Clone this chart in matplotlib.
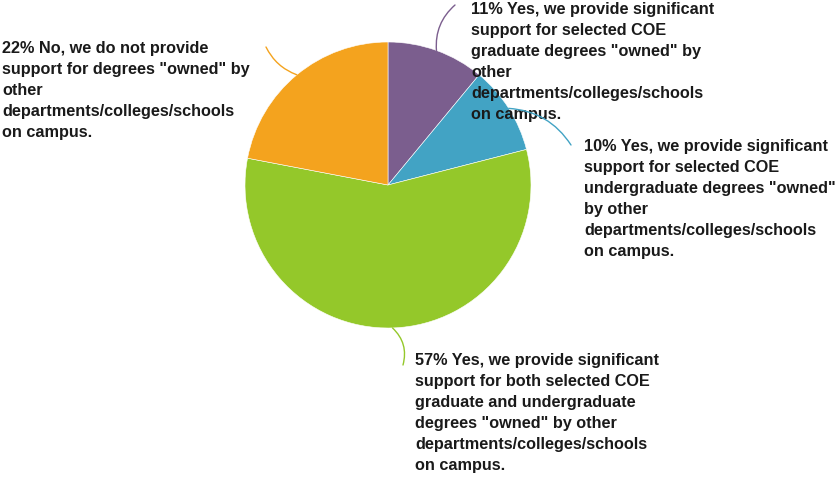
import numpy as np
import matplotlib.pyplot as plt

plt.rcParams['font.family'] = ['Liberation Sans', 'DejaVu Sans']

labels = [
    '11% Yes, we provide significant\nsupport for selected COE\ngraduate degrees "owned" by\nother\ndepartments/colleges/schools\non campus.',
    '10% Yes, we provide significant\nsupport for selected COE\nundergraduate degrees "owned"\nby other\ndepartments/colleges/schools\non campus.',
    '57% Yes, we provide significant\nsupport for both selected COE\ngraduate and undergraduate\ndegrees "owned" by other\ndepartments/colleges/schools\non campus.',
    '22% No, we do not provide\nsupport for degrees "owned" by\nother\ndepartments/colleges/schools\non campus.',
]
shares = [11, 10, 57, 22]
colors = ['#7b5e8e', '#42a3c4', '#94c82a', '#f4a31e']

# text top-left positions (pixels from top-left) and leader line end points
text_pos = [(471, 2), (584, 139), (415, 353), (2, 41)]
line_end = [(455, 6), (571, 146), (403, 366), (266, 48)]
curve = [0.25, 0.25, 0.3, 0.2]

W, H = 836, 481
fig = plt.figure(figsize=(W / 100, H / 100), dpi=100)
ax = fig.add_axes([0, 0, 1, 1])

cx, cy, r = 388, H - 186, 143
wedges, _ = ax.pie(shares, colors=colors, startangle=90, counterclock=False,
                   center=(cx, cy), radius=r, frame=True,
                   wedgeprops=dict(edgecolor='white', linewidth=0.4))
ax.set_xlim(0, W)
ax.set_ylim(0, H)
ax.set_aspect('equal')
ax.axis('off')

for w, lab, tp, le, rad, c in zip(wedges, labels, text_pos, line_end, curve, colors):
    ang = np.deg2rad((w.theta1 + w.theta2) / 2)
    px = cx + r * np.cos(ang)
    py = cy + r * np.sin(ang)
    ax.annotate('', xy=(px, py), xytext=(le[0], H - le[1]),
                arrowprops=dict(arrowstyle='-', color=c, lw=1.0,
                                connectionstyle=f'arc3,rad={rad}',
                                shrinkA=0, shrinkB=0))
    ax.text(tp[0], H - tp[1], lab, ha='left', va='top', fontsize=11.7,
            fontweight='bold', color='#1a1a1a', linespacing=1.5)

fig.savefig('out.png', dpi=100)
